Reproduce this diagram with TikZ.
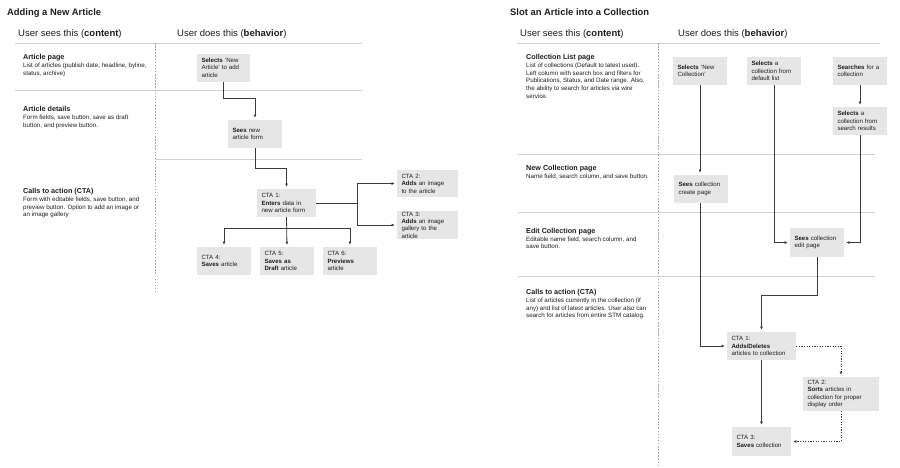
\documentclass[tikz,border=0pt]{standalone}
\usepackage{fontspec}
\setmainfont{Liberation Sans}
\usepackage{tikz}
\usepackage{xcolor}
\usetikzlibrary{arrows.meta,positioning,calc}

\definecolor{boxgray}{HTML}{E6E6E6}
\definecolor{rulegray}{HTML}{CFCFCF}
\definecolor{linegray}{HTML}{3C3C3C}
\definecolor{inkgray}{HTML}{1E1E1E}

\newcommand\titlefont{\fontsize{9.4}{11}\selectfont\bfseries}
\newcommand\headfont{\fontsize{9.5}{11}\selectfont}
\newcommand\rowfont{\fontsize{7.2}{8.5}\selectfont\bfseries}
\newcommand\descfont{\fontsize{6.2}{7.6}\selectfont}
\newcommand\boxfont{\fontsize{6.1}{7.4}\selectfont}

\begin{document}
\begin{tikzpicture}[
				x=1pt, y=-1pt,
				every node/.style={text=inkgray},
				action/.style={rectangle, fill=boxgray, inner xsep=4.5pt, inner ysep=1.5pt, text width=#1-9pt, minimum height=28pt, align=left, font=\boxfont},
				action/.default=54pt,
				diagtitle/.style={anchor=base west, inner sep=0pt, font=\titlefont},
				header/.style={anchor=base west, inner sep=0pt, font=\headfont},
				rowtitle/.style={anchor=base west, inner sep=0pt, font=\rowfont},
				rowtext/.style={anchor=north west, inner sep=0pt, align=left, font=\descfont},
				rule/.style={draw=rulegray, line width=0.8pt},
				divider/.style={draw=rulegray!80!black, line width=0.7pt, dash pattern=on 1.5pt off 1.6pt},
				flow/.style={draw=linegray, line width=0.8pt, -{Latex[length=3.2pt,width=3pt]}, shorten >=2pt},
				optflow/.style={flow, dash pattern=on 1.2pt off 1.4pt}
				]
				\useasboundingbox (0,0) rectangle (900,467);

				% left diagram: adding a new article
				\node[diagtitle] (ltitle) at (7,15.5) {Adding a New Article};
				\node[header] (lsees) at (18,36.5) {User sees this (\textbf{content})};
				\node[header] (ldoes) at (177,36.5) {User does this (\textbf{behavior})};
				\draw[rule] (15,43) -- (362,43);
				\draw[rule] (15,90) -- (362,90);
				\draw[rule] (155,159) -- (362,159);
				\draw[divider] (155,43) -- (155,292);

				\node[rowtitle] (lrow1) at (23,59.5) {Article page};
				\node[rowtext] (ldesc1) at (23,63) {List of articles (publish date, headline, byline,\\ status, archive)};
				\node[rowtitle] (lrow2) at (23,111.5) {Article details};
				\node[rowtext] (ldesc2) at (23,115) {Form fields, save button, save as draft\\ button, and preview button.};
				\node[rowtitle] (lrow3) at (23,193.5) {Calls to action (CTA)};
				\node[rowtext] (ldesc3) at (23,197) {Form with editable fields, save button, and\\ preview button. Option to add an image or\\ an image gallery};

				\node[action=53pt] (selnew) at (223.5,67.5) {\textbf{Selects} 'New\\ Article'  to add\\ article};
				\node[action] (seeform) at (255,134) {\textbf{Sees} new\\ article form};
				\node[action=59pt] (enter) at (286.5,203) {CTA 1:\\ \textbf{Enters} data in\\ new article form};
				\node[action=61pt, minimum height=27pt] (addimg) at (427.5,183.5) {CTA 2:\\ \textbf{Adds} an image\\ to the article};
				\node[action=61pt, inner ysep=0.5pt] (addgal) at (427.5,225) {CTA 3:\\ \textbf{Adds} an image\\ gallery to the\\ article};
				\node[action] (save) at (224,261) {CTA 4:\\ \textbf{Saves} article};
				\node[action] (draft) at (287,261) {CTA 5:\\ \textbf{Saves as}\\ \textbf{Draft} article};
				\node[action] (preview) at (350,261) {CTA 6:\\ \textbf{Previews}\\ article};

				\draw[flow] (selnew.south) -- ++(0,17) -| (seeform.north);
				\draw[flow] (seeform.south) -- ++(0,20) -| (enter.north);
				\coordinate (fork) at ($(enter.east)+(41,0)$);
				\draw[draw=linegray, line width=0.8pt] (enter.east) -- (fork);
				\draw[flow] (fork) |- (addimg.west);
				\draw[flow] (fork) |- (addgal.west);
				\coordinate (split) at ($(enter.south)+(0,11)$);
				\draw[flow] (enter.south) -- (draft.north);
				\draw[flow] (split) -| (save.north);
				\draw[flow] (split) -| (preview.north);

				% right diagram: slot an article into a collection
				\node[diagtitle] (rtitle) at (510,15.5) {Slot an Article into a Collection};
				\node[header] (rsees) at (520,36.5) {User sees this (\textbf{content})};
				\node[header] (rdoes) at (678,36.5) {User does this (\textbf{behavior})};
				\draw[rule] (517,43) -- (880,43);
				\draw[rule] (518,154) -- (875,154);
				\draw[rule] (518,212) -- (875,212);
				\draw[rule] (518,276) -- (875,276);
				\draw[divider] (658,43) -- (658,466);

				\node[rowtitle] (rrow1) at (526,59.5) {Collection List page};
				\node[rowtext] (rdesc1) at (526,63) {List of collections (Default to latest used).\\ Left column with search box and filters for\\ Publications, Status, and Date range. Also,\\ the ability to search for articles via wire\\ service.};
				\node[rowtitle] (rrow2) at (526,170) {New Collection page};
				\node[rowtext] (rdesc2) at (526,174) {Name field, search column, and save button.};
				\node[rowtitle] (rrow3) at (526,233.5) {Edit Collection page};
				\node[rowtext] (rdesc3) at (526,236.5) {Editable name field, search column, and\\ save button.};
				\node[rowtitle] (rrow4) at (526,294.5) {Calls to action (CTA)};
				\node[rowtext] (rdesc4) at (526,298) {List of articles currently in the collection (if\\ any) and list of latest articles. User also can\\ search for articles from entire STM catalog.};

				\node[action] (selcol) at (700,71) {\textbf{Selects} 'New\\ Collection'};
				\node[action] (seldef) at (774,71) {\textbf{Selects} a\\ collection from\\ default list};
				\node[action] (search) at (860,71) {\textbf{Searches} for a\\ collection};
				\node[action] (selres) at (860,121) {\textbf{Selects} a\\ collection from\\ search results};
				\node[action] (create) at (701,189) {\textbf{Sees} collection\\ create page};
				\node[action, minimum height=29pt] (edit) at (817,242.5) {\textbf{Sees} collection\\ edit page};
				\node[action=69pt] (adddel) at (761.5,346) {CTA 1:\\ \textbf{Adds/Deletes}\\ articles to collection};
				\node[action=76pt, minimum height=34pt] (sort) at (841,394) {CTA 2:\\ \textbf{Sorts} articles in\\ collection for proper\\ display order};
				\node[action=59pt, minimum height=29pt] (savecol) at (761.5,441.5) {CTA 3:\\ \textbf{Saves} collection};

				\draw[flow] (selcol.south) -- (selcol.south |- create.north);
				\draw[flow] (seldef.south) |- (edit.west);
				\draw[flow] (search.south) -- (selres.north);
				\draw[flow] (selres.south) |- (edit.east);
				\draw[flow] (edit.south) -- ++(0,38) -| (adddel.north);
				\draw[flow] (create.south -| selcol.south) |- (adddel.west);
				\draw[optflow] (adddel.east) -| (sort.north);
				\draw[flow] (adddel.south) -- (savecol.north);
				\draw[optflow] (sort.south) |- (savecol.east);
			\end{tikzpicture}
\end{document}
